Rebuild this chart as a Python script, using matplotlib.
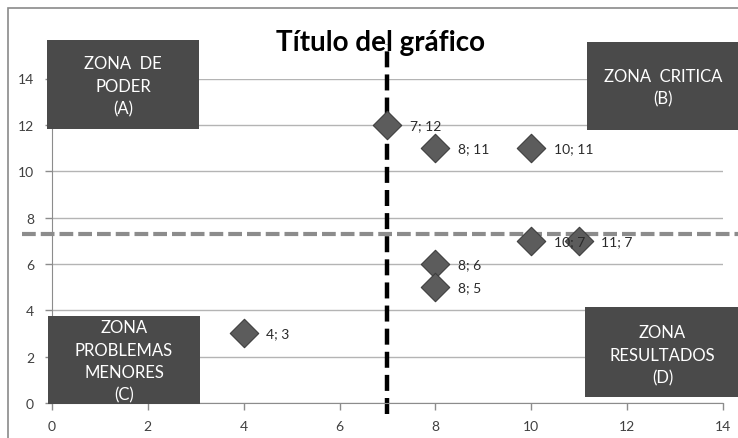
import matplotlib.pyplot as plt
from matplotlib.patches import Rectangle

plt.rcParams['font.family'] = ['Lato', 'DejaVu Sans']

# data points (x; y)
xs = [7, 8, 10, 10, 11, 8, 8, 4]
ys = [12, 11, 11, 7, 7, 6, 5, 3]
point_labels = [f"{x}; {y}" for x, y in zip(xs, ys)]

x_ticks = [0, 2, 4, 6, 8, 10, 12, 14]
y_ticks = [0, 2, 4, 6, 8, 10, 12, 14]

# quadrant split
x_split = 7
y_split = 7.3

# zone boxes: text, (left, top, right, bottom) in pixels, text centre y
zones = [
    ("ZONA  DE\nPODER\n(A)", (47, 41, 199, 130), 87),
    ("ZONA  CRITICA\n(B)", (587, 43, 740, 131), 88),
    ("ZONA\nPROBLEMAS\nMENORES\n(C)", (48, 317, 200, 405), 362),
    ("ZONA\nRESULTADOS\n(D)", (585, 308, 740, 398), 356),
]

W, H = 738, 439
fig = plt.figure(figsize=(W / 100, H / 100), dpi=100)
ax = fig.add_axes([52 / W, 1 - 404 / H, (723 - 52) / W, (404 - 79.5) / H])


def fx(px):
    return px / W


def fy(py):
    return 1 - py / H


# chart border
fig.add_artist(Rectangle((fx(8), fy(445)), fx(740 - 8), (445 - 9) / H,
                         transform=fig.transFigure, fill=False,
                         edgecolor='#8a8a8a', linewidth=1.2))

ax.set_xlim(0, 14)
ax.set_ylim(0, 14)
ax.set_xticks(x_ticks)
ax.set_yticks(y_ticks)
ax.grid(axis='y', color='#b4b4b4', linewidth=1)
ax.set_axisbelow(True)
for side in ['top', 'right']:
    ax.spines[side].set_visible(False)
for side in ['left', 'bottom']:
    ax.spines[side].set_color('#8c8c8c')
ax.tick_params(axis='both', colors='#8c8c8c', labelcolor='#404040',
               labelsize=10, length=5, width=1)
ax.tick_params(axis='x', pad=7)
ax.tick_params(axis='y', pad=8)

# quadrant divider lines, extending past the plot area
ax.plot([-0.63, 14.5], [y_split, y_split], color='#8c8c8c', lw=3,
        dashes=(3.3, 1.2), clip_on=False, zorder=2)
ax.plot([x_split, x_split], [-0.47, 15.5], color='black', lw=3.2,
        dashes=(3.6, 1.6), clip_on=False, zorder=2)

ax.scatter(xs, ys, marker='D', s=210, facecolor='#5c5c5c',
           edgecolor='#3e3e3e', linewidth=0.8, zorder=4, clip_on=False)
for x, y, lab in zip(xs, ys, point_labels):
    ax.annotate(lab, (x, y), xytext=(16, 0), textcoords='offset points',
                va='center', ha='left', fontsize=10, color='#2a2a2a', zorder=5)

for text, (l, t, r, b), cy in zones:
    fig.add_artist(Rectangle((fx(l), fy(b)), fx(r - l), (b - t) / H,
                             transform=fig.transFigure, facecolor='#4a4a4a',
                             edgecolor='none', zorder=6))
    fig.text(fx((l + r) / 2), fy(cy), text, ha='center', va='center',
             color='white', fontsize=12, linespacing=1.5, zorder=7)

fig.text(fx(380), fy(43), "Título del gráfico", ha='center', va='center',
         fontsize=20, fontweight='bold', color='black', zorder=8)

fig.savefig('out.png', dpi=100)
